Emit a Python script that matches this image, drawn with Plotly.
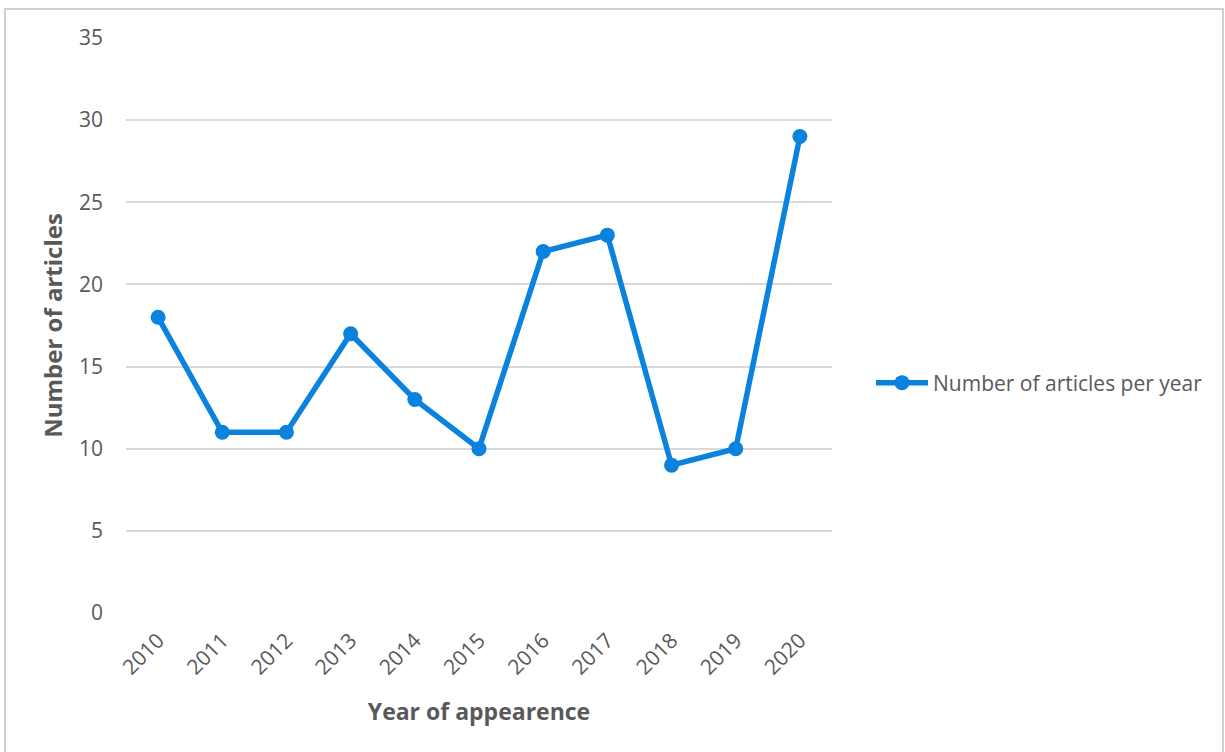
import plotly.graph_objects as go

years = ["2010", "2011", "2012", "2013", "2014", "2015", "2016", "2017", "2018", "2019", "2020"]
articles = [18, 11, 11, 17, 13, 10, 22, 23, 9, 10, 29]
series_name = "Number of articles per year"
y_ticks = [0, 5, 10, 15, 20, 25, 30, 35]

W, H = 1225, 752
L, R, T, B = 126, 832, 38, 613
pw, ph = R - L, B - T

def px(x):
    return (x - L) / pw

def py(y):
    return (B - y) / ph

blue = "#0A82DE"
gray_text = "#595959"
font_fam = "Open Sans, Liberation Sans, sans-serif"

fig = go.Figure()
fig.add_trace(go.Scatter(
    x=years, y=articles, mode="lines+markers", name=series_name,
    line=dict(color=blue, width=5.5),
    marker=dict(color=blue, size=15),
))

fig.update_layout(
    width=W, height=H,
    margin=dict(l=L, r=W - R, t=T, b=H - B),
    paper_bgcolor="white", plot_bgcolor="white",
    font=dict(family=font_fam, color=gray_text, size=21),
    showlegend=True,
    legend=dict(x=px(871), y=py(383), xanchor="left", yanchor="middle",
                font=dict(size=21, color=gray_text), itemwidth=52,
                bgcolor="rgba(0,0,0,0)"),
    xaxis=dict(
        type="category", range=[-0.5, 10.5], tickangle=-45,
        showgrid=False, showline=False, zeroline=False, ticks="",
        ticklabelstandoff=10,
        tickfont=dict(size=21, color=gray_text),
        title=dict(text="<b>Year of appearence</b>", font=dict(size=23, color=gray_text), standoff=24),
    ),
    yaxis=dict(
        range=[0, 35], tickvals=y_ticks, showgrid=True, gridcolor="#d9d9d9", gridwidth=2,
        zeroline=False, showline=False, ticks="", ticklabelstandoff=22,
        tickfont=dict(size=21, color=gray_text),
        title=dict(text="<b>Number of articles</b>", font=dict(size=24, color=gray_text), standoff=9),
    ),
    shapes=[dict(type="rect", xref="paper", yref="paper",
                 x0=px(5), x1=px(1223), y0=py(9), y1=py(770),
                 line=dict(color="#d0d0d0", width=2), fillcolor="rgba(0,0,0,0)", layer="below")],
)

fig.write_html("out.html")
